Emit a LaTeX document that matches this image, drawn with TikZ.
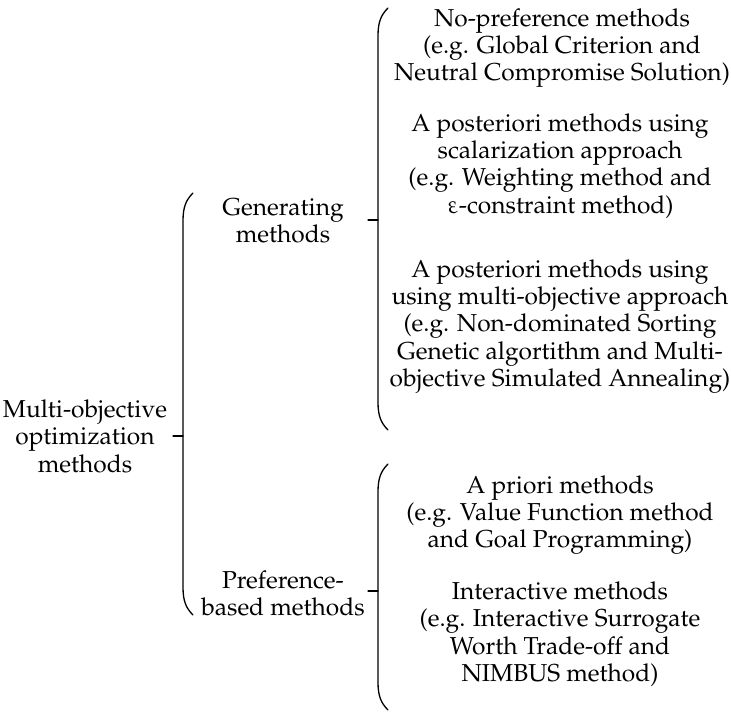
\documentclass[tikz,border=0pt]{standalone}
\usepackage[T1]{fontenc}
\usepackage{mathpazo}
\usetikzlibrary{calc}
\tikzset{
  lbl/.style={align=center, inner sep=0pt, font=\fontsize{24.5}{27.4}\selectfont},
  brc/.style={line width=1.3pt, line cap=round},
}
\newcommand{\upeps}{\tikz[baseline=0pt]\node[inner sep=0pt,anchor=base,xslant=-0.22]{$\varepsilon$};}
\begin{document}
\begin{tikzpicture}[x=1pt,y=-1pt]
\useasboundingbox (0,0) rectangle (731,714);
% texts
\node[lbl] (mo) at (85,436) {Multi-objective\\optimization\\methods};
\node[lbl] (gen) at (283,220.5) {Generating\\methods};
\node[lbl] (pref) at (283,593.5) {Preference-\\based methods};
\node[lbl] (np) at (562,48) {No-preference methods\\(e.g. Global Criterion and\\Neutral Compromise Solution)};
\node[lbl] (ap1) at (560,166) {A posteriori methods using\\scalarization approach\\(e.g. Weighting method and\\\upeps-constraint method)};
\node[lbl] (ap2) at (560,326.5) {A posteriori methods using\\using multi-objective approach\\(e.g. Non-dominated Sorting\\Genetic algortithm and Multi-\\objective Simulated Annealing)};
\node[lbl] (apr) at (560,515) {A priori methods\\(e.g. Value Function method\\and Goal Programming)};
\node[lbl] (int) at (560,634) {Interactive methods\\(e.g. Interactive Surrogate\\Worth Trade-off and\\NIMBUS method)};
% brace coordinates
\coordinate (b1t) at (193,193);
\coordinate (b1m) at (183,436);
\coordinate (b1b) at (193,615);
\coordinate (b2t) at (388,8);
\coordinate (b2m) at (378,220);
\coordinate (b2b) at (388,430);
\coordinate (b3t) at (388,464);
\coordinate (b3m) at (378,591);
\coordinate (b3b) at (388,710);
% braces
\foreach \b in {b1,b2,b3}{
  \draw[brc] (\b t) .. controls ($(\b t)+(-7,7)$) and ($(\b t)+(-10,14)$) .. ($(\b t)+(-10,28)$)
     -- ($(\b b)+(-10,-28)$) .. controls ($(\b b)+(-10,-14)$) and ($(\b b)+(-7,-7)$) .. (\b b);
  \draw[brc] (\b m) -- ++(-10,0);
}
\end{tikzpicture}
\end{document}
